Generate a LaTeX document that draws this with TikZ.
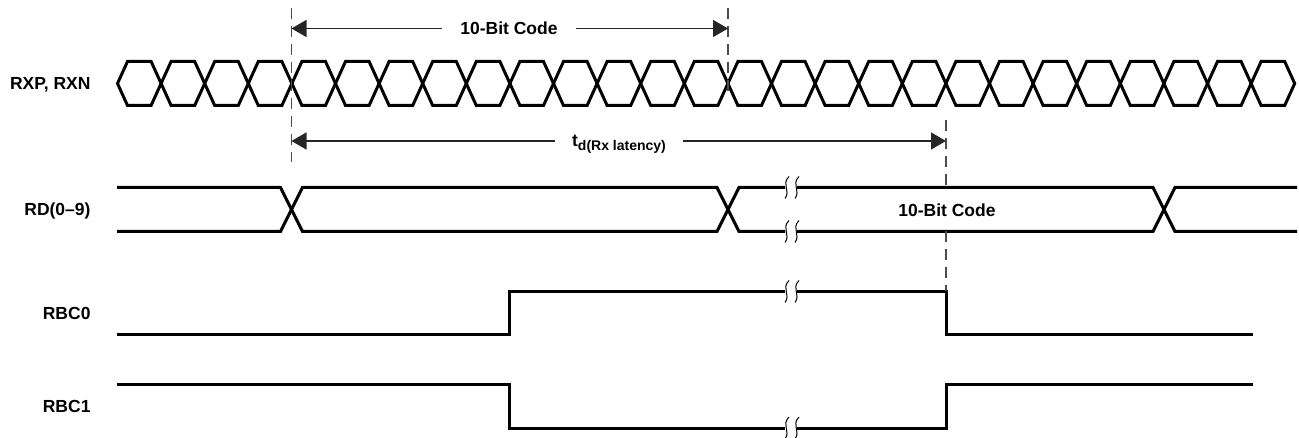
\documentclass[tikz,border=0pt]{standalone}
\usepackage{fontspec}
\setmainfont{Liberation Sans}
\usetikzlibrary{positioning, arrows.meta}

\begin{document}
\begin{tikzpicture}[x=1pt,y=-1pt,line width=3pt,
	sig name/.style={anchor=east,inner sep=0pt,text height=12.5pt,text depth=0pt,font=\fontsize{17.5}{20}\selectfont\bfseries},
	code label/.style={inner xsep=17pt,inner ysep=0pt,text height=12.5pt,text depth=0pt,font=\fontsize{17.5}{20}\selectfont\bfseries},
	dim/.style={-{Triangle[length=15pt,width=17pt]},line width=1.4pt,black!85},
	guide/.style={line width=1.4pt,black!70,dash pattern=on 11pt off 7pt},
	brk/.style={line width=1pt}]
	
	\useasboundingbox (0,0) rectangle (1299,438);
	
	% signal names
	\node[sig name] (rxp) at (92,83.5) {RXP, RXN};
	\node[sig name] (rd) at (92,209.5) {RD(0--9)};
	\node[sig name] (rbc0) at (92,313.5) {RBC0};
	\node[sig name] (rbc1) at (92,406) {RBC1};
	
	% serial data eye
	\foreach \k in {0,...,26}{
		\pgfmathsetmacro\xa{117.5+\k*43.6}
		\pgfmathsetmacro\xb{\xa+43.6}
		\draw (\xa,83.5) -- (\xa+10,61.5) -- (\xb-10,61.5) -- (\xb,83.5) -- (\xb-10,105.5) -- (\xa+10,105.5) -- cycle;
	}
	
	% RD(0-9)
	\draw (117,187.5) -- (280.5,187.5) -- (302.5,231.5) -- (717,231.5) -- (739,187.5) -- (785,187.5);
	\draw (797,187.5) -- (1153,187.5) -- (1175,231.5) -- (1297,231.5);
	\draw (117,231.5) -- (280.5,231.5) -- (302.5,187.5) -- (717,187.5) -- (739,231.5) -- (785,231.5);
	\draw (797,231.5) -- (1153,231.5) -- (1175,187.5) -- (1297,187.5);
	\node[code label] (rdcode) at (947,210.5) {10-Bit Code};
	
	% RBC0 and RBC1
	\draw (117,335) -- (509.5,335) -- (509.5,291.5) -- (785,291.5);
	\draw (797,291.5) -- (946,291.5) -- (946,335) -- (1253,335);
	\draw (117,384) -- (509.5,384) -- (509.5,428) -- (785,428);
	\draw (797,428) -- (946,428) -- (946,384) -- (1253,384);
	
	% break marks
	\foreach \y in {187.5,231.5,291.5,428}
	\foreach \x in {786,796}
	\draw[brk] (\x+3,\y-11) .. controls (\x-5,\y-3) and (\x+5,\y+3) .. (\x-1,\y+11);
	
	% guides
	\coordinate (gAtop) at (291.5,8);
	\coordinate (gAbot) at (291.5,162);
	\coordinate (gBtop) at (728,8);
	\coordinate (gBbot) at (728,98);
	\coordinate (gCtop) at (946,120);
	\coordinate (gCmid) at (946,187.5);
	\coordinate (gClow) at (946,231.5);
	\coordinate (gCbot) at (946,291.5);
	\draw[guide] (gAtop) -- (gAbot);
	\draw[guide] (gBtop) -- (gBbot);
	\draw[guide] (gCtop) -- (gCmid);
	\draw[guide] (gClow) -- (gCbot);
	
	% dimensions
	\node[code label] (code) at (509,28.5) {10-Bit Code};
	\coordinate (codeL) at (291.5,28.5);
	\coordinate (codeR) at (728,28.5);
	\node[code label,inner xsep=16pt,text height=12pt] (td) at (619,141)
	{t\raisebox{-4pt}{\fontsize{14}{14}\selectfont d(Rx latency)}};
	\coordinate (tdL) at (291.5,141);
	\coordinate (tdR) at (946,141);
	
	\path[dim]
	(code) edge (codeL)
	(code) edge (codeR)
	(td) edge (tdL)
	(td) edge (tdR);
\end{tikzpicture}
\end{document}
